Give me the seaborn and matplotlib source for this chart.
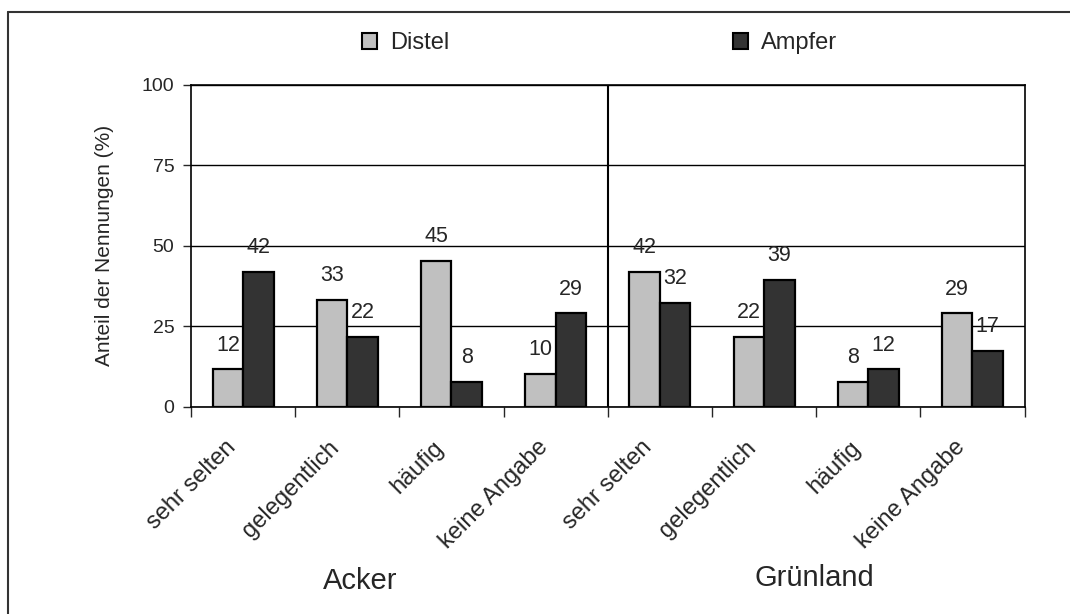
import pandas as pd
import matplotlib.pyplot as plt
import matplotlib.lines as mlines
import matplotlib.transforms as mtransforms
import seaborn as sns

# data
standorte = ["Acker", "Grünland"]
haeufigkeit = ["sehr selten", "gelegentlich", "häufig", "keine Angabe"]
distel_acker = [11.6, 33.3, 45.2, 10.3]
ampfer_acker = [41.9, 21.7, 7.8, 29.0]
distel_gruenland = [41.9, 21.7, 7.8, 29.0]
ampfer_gruenland = [32.3, 39.4, 11.6, 17.4]
y_ticks = [0, 25, 50, 75, 100]

rows = []
for standort, distel, ampfer in [
    ("Acker", distel_acker, ampfer_acker),
    ("Grünland", distel_gruenland, ampfer_gruenland),
]:
    for h, d, a in zip(haeufigkeit, distel, ampfer):
        rows.append({"key": f"{standort}|{h}", "Art": "Distel", "Anteil": d})
        rows.append({"key": f"{standort}|{h}", "Art": "Ampfer", "Anteil": a})
df = pd.DataFrame(rows)
order = [f"{s}|{h}" for s in standorte for h in haeufigkeit]

sns.set_style("white")
plt.rcParams["font.family"] = ["Liberation Sans", "DejaVu Sans"]

fig = plt.figure(figsize=(10.7, 6.14), dpi=100)
ax = fig.add_axes([0.1785, 0.3376, 0.7790, 0.5240])

sns.barplot(
    data=df, x="key", y="Anteil", hue="Art", order=order,
    hue_order=["Distel", "Ampfer"],
    palette={"Distel": "#c0c0c0", "Ampfer": "#333333"},
    width=0.585, edgecolor="black", linewidth=1.6, saturation=1,
    errorbar=None, ax=ax,
)

for cont in ax.containers:
    ax.bar_label(cont, fmt="%.0f", padding=10, fontsize=15.5)

ax.set_xlim(-0.5, 7.5)
ax.set_ylim(0, 100)
ax.set_yticks(y_ticks)
ax.tick_params(axis="y", direction="out", length=6, width=1, labelsize=14,
               left=True, pad=6)
ax.grid(True, axis="y", color="black", linewidth=1)
ax.set_axisbelow(True)

# category labels in the middle, tick marks at the borders
ax.set_xticks(range(8))
ax.set_xticklabels(haeufigkeit * 2, rotation=45, ha="right", va="center",
                   rotation_mode="anchor", fontsize=17)
ax.tick_params(axis="x", length=0, pad=27)
shift = mtransforms.ScaledTranslation(-0.11, 0, fig.dpi_scale_trans)
for lab in ax.get_xticklabels():
    lab.set_transform(lab.get_transform() + shift)
ax.set_xticks([i + 0.5 for i in range(-1, 8)], minor=True)
ax.tick_params(axis="x", which="minor", direction="out", length=7, width=1,
               bottom=True)
ax.axvline(3.5, color="black", linewidth=1.5)

for s in ax.spines.values():
    s.set_color("black")
    s.set_linewidth(1.2)

ax.set_xlabel("")
ax.set_ylabel("Anteil der Nennungen (%)", fontsize=15, labelpad=20)

leg = ax.legend(
    loc="center left", bbox_to_anchor=(362 / 1070, 1 - 43 / 614),
    bbox_transform=fig.transFigure, ncol=2, frameon=False, fontsize=17,
    borderpad=0, borderaxespad=0, handlelength=0.64, handleheight=0.64,
    handletextpad=0.55, columnspacing=12.0,
)
for h in leg.legend_handles:
    h.set_edgecolor("black")
    h.set_linewidth(1.5)

fig.text(360 / 1070, 1 - 581 / 614, "Acker", fontsize=21, ha="center", va="center")
fig.text(814 / 1070, 1 - 578 / 614, "Grünland", fontsize=21, ha="center", va="center")

# outer frame (only left and top edge visible)
fig.add_artist(mlines.Line2D([8 / 1070, 8 / 1070], [0, 1 - 12 / 614],
                             transform=fig.transFigure, color="#333333", lw=1.5))
fig.add_artist(mlines.Line2D([8 / 1070, 1], [1 - 12 / 614, 1 - 12 / 614],
                             transform=fig.transFigure, color="#333333", lw=1.5))

fig.savefig("out.png", dpi=100)
